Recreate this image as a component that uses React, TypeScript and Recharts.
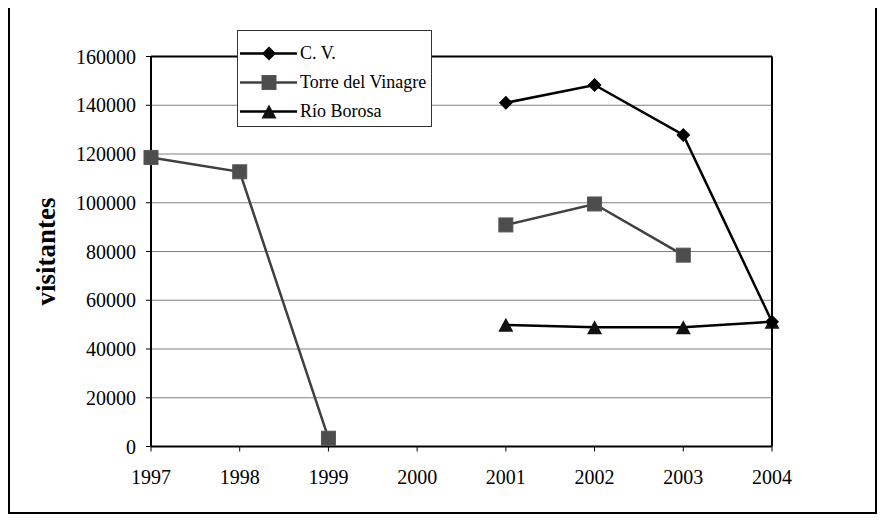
import { LineChart, Line, XAxis, YAxis, CartesianGrid, Legend, ReferenceLine } from 'recharts';

const years = ['1997', '1998', '1999', '2000', '2001', '2002', '2003', '2004'];
const cvValues = [null, null, null, null, 141000, 148300, 127800, 51200];
const torreValues = [118600, 112700, 3400, null, 90900, 99500, 78500, null];
const borosaValues = [null, null, null, null, 49900, 48900, 48900, 51200];
const yTicks = [0, 20000, 40000, 60000, 80000, 100000, 120000, 140000, 160000];

const seriesNames = ['C. V.', 'Torre del Vinagre', 'Río Borosa'];

const FONT = '"Liberation Serif", "Times New Roman", serif';

// tabla para recharts
const chartData = years.map((year, i) => ({
  year,
  cv: cvValues[i],
  torre: torreValues[i],
  borosa: borosaValues[i],
}));

// marcadores
const Diamond = ({ cx, cy }: any) => (
  <path d={`M${cx},${cy - 7} L${cx + 7},${cy} L${cx},${cy + 7} L${cx - 7},${cy} Z`} fill="#000" />
);
const Square = ({ cx, cy }: any) => (
  <rect x={cx - 7} y={cy - 7} width={14} height={14} fill="#4d4d4d" stroke="#555" strokeWidth={1} />
);
const Triangle = ({ cx, cy }: any) => (
  <path d={`M${cx},${cy - 7} L${cx + 7.5},${cy + 7} L${cx - 7.5},${cy + 7} Z`} fill="#111" />
);

const makeDot = (Shape: any) => (props: any) => {
  const { cx, cy, index } = props;
  if (cy == null || props.value == null) return <g key={index} />;
  return <Shape key={index} cx={cx} cy={cy} />;
};

const legendItems = [
  { name: seriesNames[0], color: '#000', Shape: Diamond },
  { name: seriesNames[1], color: '#404040', Shape: Square },
  { name: seriesNames[2], color: '#000', Shape: Triangle },
];

const CustomLegend = () => (
  <div
    style={{
      border: '1px solid #333',
      background: '#fff',
      width: 193,
      height: 87,
      paddingTop: 8,
      fontFamily: FONT,
    }}
  >
    {legendItems.map(item => (
      <div key={item.name} style={{ display: 'flex', alignItems: 'center', height: 29 }}>
        <svg width={60} height={29} style={{ flex: 'none' }}>
          <line x1={2} y1={14.5} x2={59} y2={14.5} stroke={item.color} strokeWidth={2.5} />
          <item.Shape cx={31} cy={14.5} />
        </svg>
        <span style={{ fontSize: 18, marginLeft: 2, color: '#000', whiteSpace: 'nowrap' }}>{item.name}</span>
      </div>
    ))}
  </div>
);

export default function App() {
  return (
    <div
      style={{
        marginTop: -2,
        width: 869,
        height: 508,
        border: '2px solid #000',
        boxSizing: 'border-box',
        background: '#fff',
      }}
    >
      <LineChart
        width={865}
        height={504}
        data={chartData}
        margin={{ top: 48.5, right: 103, left: 81, bottom: 35.5 }}
      >
        <CartesianGrid vertical={false} stroke="#808080" strokeWidth={1} />
        <XAxis
          dataKey="year"
          height={30}
          axisLine={{ stroke: '#000', strokeWidth: 2 }}
          tickLine={{ stroke: '#000', strokeWidth: 1 }}
          tickSize={5}
          tickMargin={18}
          tick={{ fill: '#000', fontSize: 20, fontFamily: FONT }}
          interval={0}
        />
        <YAxis
          width={60}
          domain={[0, 160000]}
          ticks={yTicks}
          interval={0}
          axisLine={{ stroke: '#000', strokeWidth: 2 }}
          tickLine={{ stroke: '#000', strokeWidth: 1 }}
          tickSize={5}
          tickMargin={10}
          tick={{ fill: '#000', fontSize: 20, fontFamily: FONT }}
          label={{
            value: 'visitantes',
            angle: -90,
            position: 'insideLeft',
            offset: -46,
            style: { textAnchor: 'middle', fontFamily: FONT, fontSize: 27, fontWeight: 'bold', fill: '#000' },
          }}
        />
        <ReferenceLine y={160000} stroke="#000" strokeWidth={2} />
        <ReferenceLine x="2004" stroke="#000" strokeWidth={2} />
        <Line
          dataKey="torre"
          name={seriesNames[1]}
          stroke="#404040"
          strokeWidth={2.5}
          dot={makeDot(Square)}
          isAnimationActive={false}
        />
        <Line
          dataKey="borosa"
          name={seriesNames[2]}
          stroke="#000"
          strokeWidth={2.5}
          dot={makeDot(Triangle)}
          isAnimationActive={false}
        />
        <Line
          dataKey="cv"
          name={seriesNames[0]}
          stroke="#000"
          strokeWidth={2.5}
          dot={makeDot(Diamond)}
          isAnimationActive={false}
        />
        <Legend
          layout="vertical"
          verticalAlign="middle"
          align="center"
          content={<CustomLegend />}
          wrapperStyle={{ left: 227, top: 22, width: 195 }}
        />
      </LineChart>
    </div>
  );
}
